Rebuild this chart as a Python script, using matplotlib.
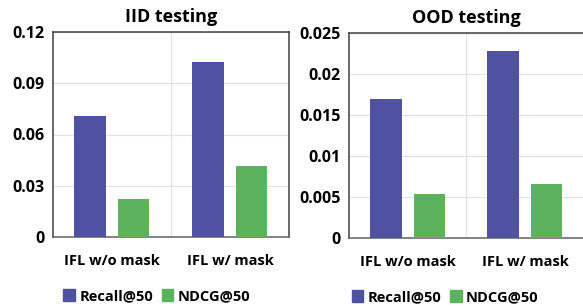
import matplotlib
matplotlib.use("Agg")
import matplotlib.pyplot as plt
import numpy as np
from matplotlib.patches import Patch

plt.rcParams['font.family'] = ['Open Sans', 'DejaVu Sans']

categories = ["IFL w/o mask", "IFL w/ mask"]
series_names = ["Recall@50", "NDCG@50"]
iid_recall = [0.0710, 0.1022]
iid_ndcg = [0.0224, 0.0416]
ood_recall = [0.0170, 0.0228]
ood_ndcg = [0.00534, 0.00656]
iid_ticks = [0, 0.03, 0.06, 0.09, 0.12]
iid_ticklabels = ["0", "0.03", "0.06", "0.09", "0.12"]
ood_ticks = [0, 0.005, 0.01, 0.015, 0.02, 0.025]
ood_ticklabels = ["0", "0.005", "0.01", "0.015", "0.02", "0.025"]

c_recall = "#4F51A1"
c_ndcg = "#5CB25D"

fig = plt.figure(figsize=(5.83, 3.06), dpi=100)
ax1 = fig.add_axes([53/583, 1-237/306, (289-53)/583, 205/306])
ax2 = fig.add_axes([349/583, 1-238/306, (583.5-349)/583, 205/306])

def draw(ax, rec, ndcg, ticks, ticklabels, title, legx):
    x = np.arange(len(categories))
    ax.bar(x - 0.185, rec, width=0.275, color=c_recall, zorder=3)
    ax.bar(x + 0.185, ndcg, width=0.265, color=c_ndcg, zorder=3)
    ax.set_xlim(-0.5, len(categories) - 0.5)
    ax.set_ylim(ticks[0], ticks[-1])
    ax.set_yticks(ticks)
    ax.set_yticklabels(ticklabels, fontsize=11.5, fontweight='bold')
    ax.set_xticks(x)
    ax.set_xticklabels(categories, fontsize=10.5, fontweight='bold')
    ax.tick_params(axis='both', length=0, pad=6)
    ax.tick_params(axis='x', pad=12)
    ax.grid(axis='y', color='#e3e3e3', linewidth=0.9, zorder=0)
    ax.set_xticks([0.5], minor=True)
    ax.grid(axis='x', which='minor', color='#e3e3e3', linewidth=0.9, zorder=0)
    ax.tick_params(axis='x', which='minor', length=0)
    for s in ax.spines.values():
        s.set_color('#404040')
        s.set_linewidth(1.1)
    ax.spines['bottom'].set_color('#606060')
    ax.set_title(title, fontsize=13, fontweight='bold', pad=7)
    handles = [Patch(color=c_recall), Patch(color=c_ndcg)]
    ax.legend(handles, series_names, loc='upper center', bbox_to_anchor=(legx, -0.19),
              ncol=2, frameon=False, prop={'weight': 'bold', 'size': 10.5},
              handlelength=0.8, handleheight=0.8, handletextpad=0.3, columnspacing=0.6)

draw(ax1, iid_recall, iid_ndcg, iid_ticks, iid_ticklabels, "IID testing", 0.44)
draw(ax2, ood_recall, ood_ndcg, ood_ticks, ood_ticklabels, "OOD testing", 0.41)

fig.savefig("out.png", dpi=100)
